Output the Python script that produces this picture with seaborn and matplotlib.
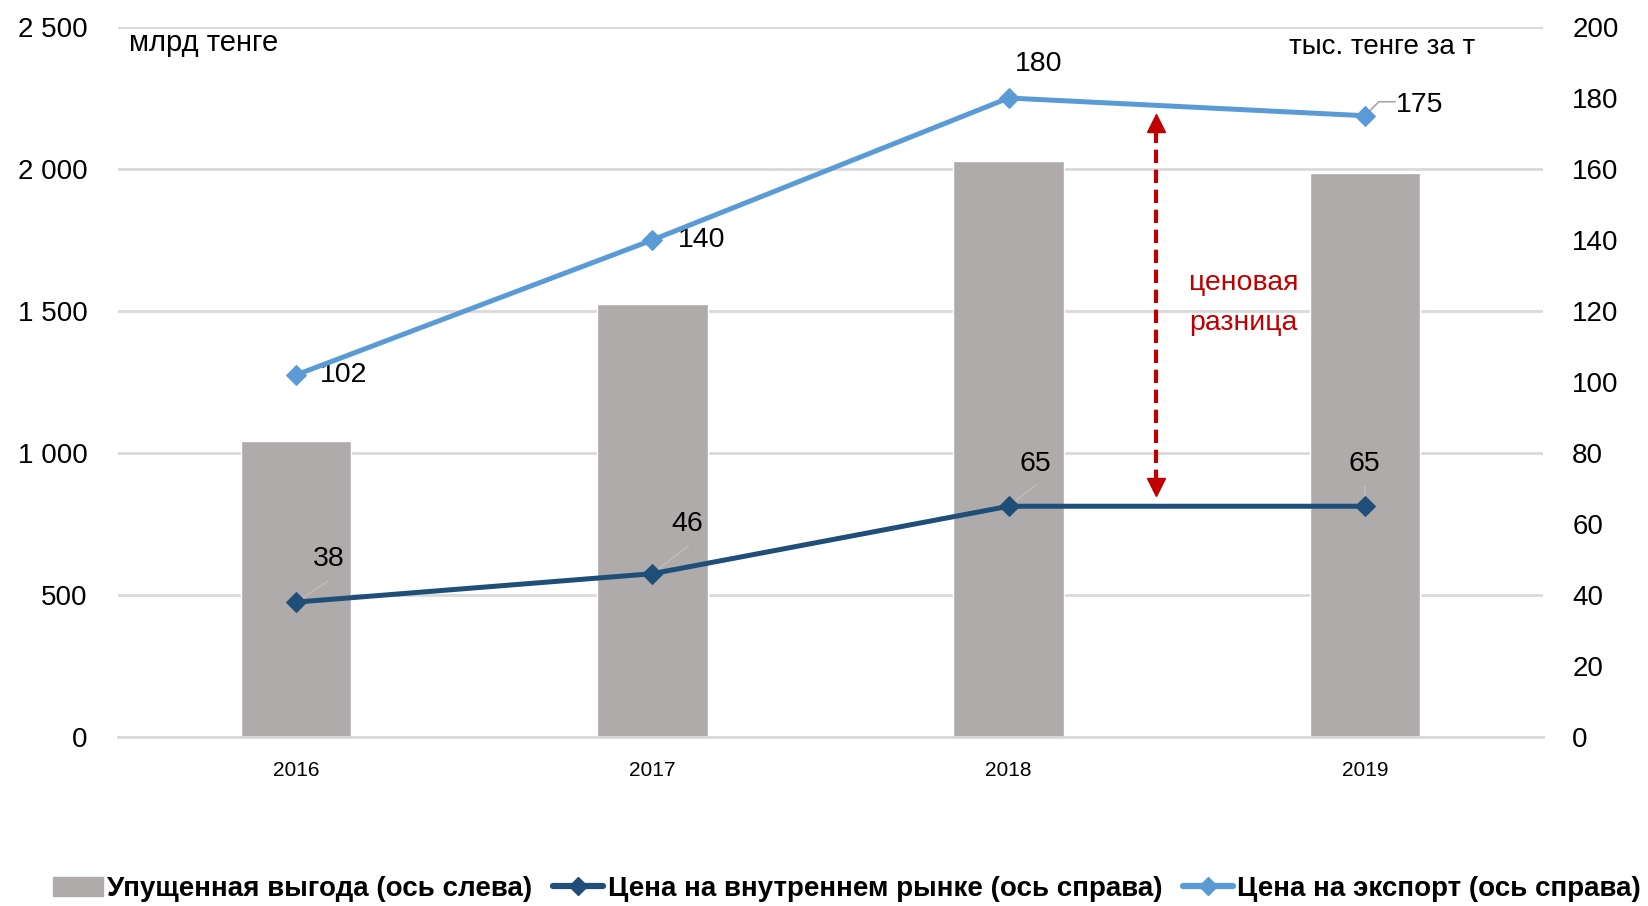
import numpy as np
import pandas as pd
import matplotlib
matplotlib.use("Agg")
import matplotlib.pyplot as plt
import seaborn as sns
from matplotlib.lines import Line2D
from matplotlib.patches import Patch
from matplotlib.ticker import FuncFormatter

# данные
anios = ['2016', '2017', '2018', '2019']
upushchennaya_vygoda = [1042, 1525, 2028, 1986]      # млрд тенге, ось слева
cena_vnutr = [38, 46, 65, 65]                        # тыс. тенге за т, ось справа
cena_eksport = [102, 140, 180, 175]                  # тыс. тенге за т, ось справа

# стрелка "ценовая разница" (ось справа)
strelka_x = 2.413
strelka_verh = 175
strelka_niz = 68.5

col_bar = '#AFABAB'
col_vnutr = '#1F4E79'
col_eksp = '#5B9BD5'
col_red = '#C00000'
col_grid = '#D9D9D9'

sns.set_theme(style='white')
plt.rcParams['font.family'] = ['Liberation Sans', 'DejaVu Sans']
plt.rcParams['text.color'] = 'black'

fig = plt.figure(figsize=(16.48, 9.06), dpi=100)
ax = fig.add_axes([118 / 1648, 1 - 737 / 906, 1425 / 1648, 710 / 906])

df = pd.DataFrame({'Anio': anios, 'Vygoda': upushchennaya_vygoda})
sns.barplot(data=df, x='Anio', y='Vygoda', color=col_bar, width=0.31,
            saturation=1, ax=ax, zorder=2)
ax.set_xlim(-0.5, 3.5)
ax.set_ylim(0, 2500)
ax.set_yticks([0, 500, 1000, 1500, 2000, 2500])
ax.yaxis.set_major_formatter(FuncFormatter(lambda v, p: f'{int(v):,}'.replace(',', ' ')))
ax.set_axisbelow(True)
ax.yaxis.grid(True, color=col_grid, lw=2)
ax.set_xlabel('')
ax.set_ylabel('')
for s in ['top', 'left', 'right']:
    ax.spines[s].set_visible(False)
ax.spines['bottom'].set_color(col_grid)
ax.spines['bottom'].set_linewidth(2)
ax.tick_params(axis='y', length=0, pad=22, labelsize=20, labelcolor='black')
ax.tick_params(axis='x', length=0, pad=17, labelsize=15, labelcolor='black')

ax2 = ax.twinx()
x_pos = np.arange(len(anios))
sns.lineplot(x=x_pos, y=cena_eksport, color=col_eksp, lw=3.6, marker='D',
             markersize=10.5, markeredgecolor=col_eksp, ax=ax2, zorder=4)
sns.lineplot(x=x_pos, y=cena_vnutr, color=col_vnutr, lw=3.6, marker='D',
             markersize=10.5, markeredgecolor=col_vnutr, ax=ax2, zorder=4)
ax2.set_ylim(0, 200)
ax2.set_yticks(range(0, 201, 20))
ax2.set_xlim(-0.5, 3.5)
for s in ['top', 'left', 'right', 'bottom']:
    ax2.spines[s].set_visible(False)
ax2.tick_params(axis='y', length=0, pad=21, labelsize=20, labelcolor='black')

# подписи значений (смещения в пикселях -> точки)
k = 0.72
off_eksp = [(24, 0, 'left'), (25, 0, 'left'), (30, -34, 'center'), (31, -11, 'left')]
for i, (dx, dy, ha) in enumerate(off_eksp):
    ax2.annotate(str(cena_eksport[i]), (x_pos[i], cena_eksport[i]),
                 xytext=(dx * k, -dy * k), textcoords='offset points',
                 ha=ha, va='center', fontsize=20.5)
# выноска для 175
ax2.annotate('', (x_pos[3], cena_eksport[3]), xytext=(33 * k, 14 * k),
             textcoords='offset points',
             arrowprops=dict(arrowstyle='-', color='#A6A6A6', lw=1.2,
                             connectionstyle='angle,angleA=0,angleB=45,rad=0'))

off_vnutr = [(33, -43), (35, -50), (27, -42), (0, -42)]
lead_vnutr = [(32, -21), (36, -28), (27, -21), (0, -20)]
for i, ((dx, dy), (lx, ly)) in enumerate(zip(off_vnutr, lead_vnutr)):
    ax2.annotate(str(cena_vnutr[i]), (x_pos[i], cena_vnutr[i]),
                 xytext=(dx * k, -dy * k), textcoords='offset points',
                 ha='center', va='center', fontsize=20.5)
    ax2.annotate('', (x_pos[i], cena_vnutr[i]), xytext=(lx * k, -ly * k),
                 textcoords='offset points',
                 arrowprops=dict(arrowstyle='-', color='#BFBFBF', lw=1,
                                 shrinkA=0, shrinkB=4))

# стрелка
ax2.plot([strelka_x, strelka_x], [strelka_niz + 3, strelka_verh - 3], color=col_red,
         lw=3, dashes=(3.2, 1.6), zorder=5)
ax2.plot([strelka_x], [strelka_verh - 2], marker='^', color=col_red, ms=13,
         ls='none', zorder=5)
ax2.plot([strelka_x], [strelka_niz + 2], marker='v', color=col_red, ms=13,
         ls='none', zorder=5)

# подписи
ax.text((129 - 118) / 1425, (737 - 43) / 710, 'млрд тенге', transform=ax.transAxes,
        ha='left', va='center', fontsize=21)
ax.text((1289 - 118) / 1425, (737 - 47) / 710, 'тыс. тенге за т', transform=ax.transAxes,
        ha='left', va='center', fontsize=20)
ax.text((1189 - 118) / 1425, (737 - 283) / 710, 'ценовая', transform=ax.transAxes,
        ha='left', va='center', fontsize=20.5, color=col_red)
ax.text((1189 - 118) / 1425, (737 - 323) / 710, 'разница', transform=ax.transAxes,
        ha='left', va='center', fontsize=20.5, color=col_red)

handles = [
    Patch(facecolor=col_bar, edgecolor=col_bar),
    Line2D([], [], color=col_vnutr, lw=4.5, marker='D', ms=9),
    Line2D([], [], color=col_eksp, lw=4.5, marker='D', ms=9),
]
labels = ['Упущенная выгода (ось слева)', 'Цена на внутреннем рынке (ось справа)',
          'Цена на экспорт (ось справа)']
fig.legend(handles, labels, loc='center', bbox_to_anchor=(0.514, 17 / 906), ncol=3,
           frameon=False, handlelength=1.8, handletextpad=0.15, columnspacing=0.75,
           labelcolor='black', prop={'weight': 'bold', 'size': 20})

fig.savefig('out.png', dpi=100)
